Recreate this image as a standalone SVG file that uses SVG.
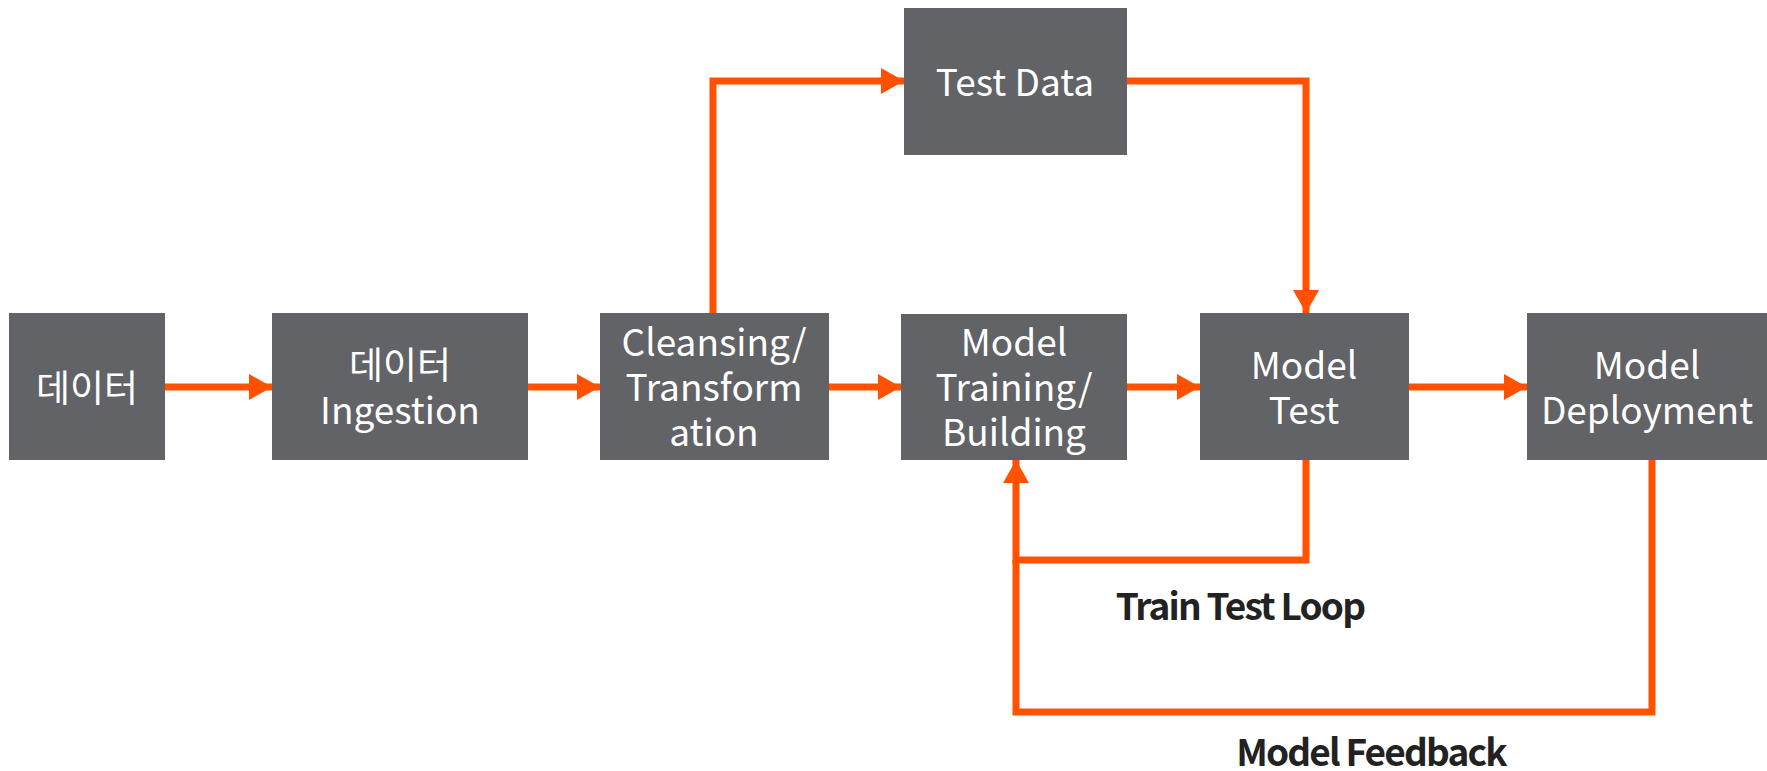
<svg xmlns="http://www.w3.org/2000/svg" width="1767" height="771" viewBox="0 0 1767 771">
<style>
.box{fill:#626366}
.t{font-family:"Noto Sans CJK KR","Open Sans",sans-serif;font-size:37px;fill:#ffffff;text-anchor:middle;dominant-baseline:central}
.c{fill:none;stroke:#FF5100;stroke-width:7}
.lbl{font-family:"Noto Sans CJK KR","Open Sans",sans-serif;font-size:37px;font-weight:bold;fill:#222222;text-anchor:middle;dominant-baseline:central;letter-spacing:-1.8px}
</style>
<defs>
<marker id="ah" markerUnits="userSpaceOnUse" markerWidth="24" markerHeight="26" refX="23" refY="13" orient="auto">
<path d="M0,0 L23,13 L0,26 Z" fill="#FF5100"/>
</marker>
</defs>
<g id="connectors">
<path class="c" d="M165,387 H272" marker-end="url(#ah)"/>
<path class="c" d="M528,387 H600" marker-end="url(#ah)"/>
<path class="c" d="M829,387 H901" marker-end="url(#ah)"/>
<path class="c" d="M1127,387 H1200" marker-end="url(#ah)"/>
<path class="c" d="M1409,387 H1527" marker-end="url(#ah)"/>
<path class="c" d="M713,313 V81 H904" marker-end="url(#ah)"/>
<path class="c" d="M1127,81 H1306 V313" marker-end="url(#ah)"/>
<path class="c" d="M1652,460 V712 H1016 V560"/>
<path class="c" d="M1306,460 V560 H1016 V460" marker-end="url(#ah)"/>
</g>
<g id="n-data"><rect class="box" x="9" y="313" width="156" height="147"/><text class="t" x="87" y="386">데이터</text></g>
<g id="n-ingestion"><rect class="box" x="272" y="313" width="256" height="147"/><text class="t" x="400" y="363">데이터</text><text class="t" x="400" y="408">Ingestion</text></g>
<g id="n-cleansing"><rect class="box" x="600" y="313" width="229" height="147"/><text class="t" x="714" y="340">Cleansing/</text><text class="t" x="714" y="385">Transform</text><text class="t" x="714" y="430">ation</text></g>
<g id="n-training"><rect class="box" x="901" y="314" width="226" height="146"/><text class="t" x="1014" y="340">Model</text><text class="t" x="1014" y="385">Training/</text><text class="t" x="1014" y="430">Building</text></g>
<g id="n-test"><rect class="box" x="1200" y="313" width="209" height="147"/><text class="t" x="1304" y="363">Model</text><text class="t" x="1304" y="408">Test</text></g>
<g id="n-deploy"><rect class="box" x="1527" y="313" width="240" height="147"/><text class="t" x="1647" y="363">Model</text><text class="t" x="1647" y="408">Deployment</text></g>
<g id="n-testdata"><rect class="box" x="904" y="8" width="223" height="147"/><text class="t" x="1015" y="80">Test Data</text></g>
<g id="labels">
<text class="lbl" x="1240" y="604">Train Test Loop</text>
<text class="lbl" x="1371" y="750">Model Feedback</text>
</g>
</svg>
